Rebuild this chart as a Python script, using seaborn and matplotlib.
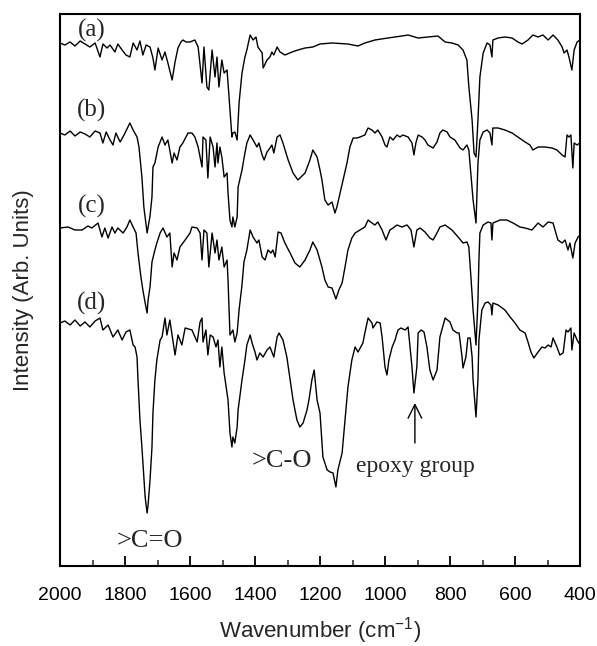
import matplotlib
matplotlib.use('Agg')
import matplotlib.pyplot as plt
import seaborn as sns
import pandas as pd
from matplotlib.ticker import MultipleLocator

# FTIR spectra, offset vertically (arb. units)
wn_a = [2000, 1985, 1969, 1954, 1938, 1923, 1908, 1892, 1877, 1868, 1855, 1846, 1831, 1822, 1809,
        1797, 1785, 1775, 1763, 1754, 1745, 1735, 1723, 1714, 1708, 1698, 1686, 1677, 1668, 1655,
        1646, 1637, 1628, 1622, 1612, 1600, 1585, 1575, 1563, 1557, 1548, 1542, 1532, 1523, 1517,
        1511, 1502, 1495, 1486, 1483, 1477, 1471, 1468, 1462, 1455, 1449, 1440, 1431, 1425, 1415,
        1406, 1397, 1391, 1378, 1375, 1363, 1354, 1348, 1342, 1332, 1323, 1308, 1286, 1268, 1246,
        1222, 1200, 1163, 1114, 1083, 1062, 1031, 991, 948, 929, 898, 868, 837, 815, 794,
        775, 760, 748, 742, 732, 726, 720, 714, 708, 698, 686, 677, 671, 668, 652,
        631, 609, 591, 578, 560, 545, 529, 514, 498, 483, 468, 455, 449, 440, 434,
        425, 418, 409, 400]
int_a = [523, 521, 524, 520, 525, 522, 519, 523, 509, 522, 518, 521, 514, 522, 516,
         511, 509, 523, 516, 525, 511, 521, 519, 508, 496, 518, 506, 514, 503, 486,
         504, 518, 524, 526, 524, 524, 526, 519, 483, 519, 479, 476, 516, 489, 509,
         479, 506, 493, 496, 483, 456, 429, 433, 434, 426, 463, 493, 509, 516, 531,
         526, 529, 519, 513, 498, 506, 509, 514, 511, 519, 514, 511, 514, 516, 518,
         519, 522, 523, 522, 520, 523, 526, 528, 530, 531, 528, 529, 530, 524, 523,
         521, 516, 506, 479, 446, 413, 409, 446, 489, 513, 523, 521, 509, 526, 528,
         529, 528, 524, 522, 526, 531, 529, 531, 526, 531, 526, 519, 513, 516, 509,
         496, 516, 524, 526]

wn_b = [2000, 1985, 1969, 1954, 1938, 1923, 1908, 1892, 1877, 1868, 1858, 1846, 1837, 1828, 1815,
        1803, 1785, 1775, 1763, 1757, 1748, 1742, 1732, 1723, 1717, 1714, 1708, 1698, 1686, 1677,
        1668, 1655, 1649, 1640, 1631, 1622, 1606, 1594, 1585, 1575, 1563, 1560, 1551, 1545, 1538,
        1529, 1523, 1517, 1514, 1508, 1502, 1495, 1486, 1483, 1477, 1471, 1468, 1462, 1455, 1452,
        1440, 1431, 1425, 1415, 1406, 1394, 1388, 1378, 1372, 1363, 1354, 1348, 1342, 1332, 1323,
        1314, 1298, 1283, 1268, 1246, 1231, 1222, 1209, 1200, 1194, 1185, 1175, 1163, 1154, 1148,
        1138, 1129, 1117, 1108, 1098, 1086, 1077, 1062, 1052, 1040, 1031, 1022, 1009, 1000, 994,
        985, 975, 963, 954, 945, 929, 917, 911, 905, 898, 886, 877, 868, 852, 840,
        831, 822, 809, 800, 785, 769, 760, 748, 742, 735, 729, 720, 717, 714, 708,
        698, 686, 677, 671, 668, 652, 631, 609, 591, 569, 554, 545, 529, 508, 486,
        471, 455, 446, 440, 434, 428, 422, 418, 409, 400]
int_b = [433, 431, 435, 430, 434, 432, 429, 435, 433, 423, 434, 426, 421, 433, 424,
         431, 443, 436, 429, 419, 389, 359, 333, 350, 369, 399, 403, 419, 429, 421,
         426, 403, 413, 406, 419, 423, 433, 433, 429, 419, 399, 429, 426, 388, 429,
         419, 399, 423, 403, 419, 409, 389, 393, 373, 346, 339, 349, 339, 349, 379,
         396, 413, 423, 431, 426, 419, 423, 411, 406, 414, 418, 421, 413, 429, 431,
         423, 406, 393, 386, 393, 406, 416, 409, 396, 386, 366, 361, 364, 353, 359,
         373, 386, 403, 419, 428, 428, 429, 431, 438, 436, 433, 436, 429, 421, 419,
         429, 426, 431, 429, 431, 429, 423, 411, 423, 431, 429, 426, 421, 418, 424,
         433, 436, 434, 429, 426, 418, 416, 421, 416, 389, 366, 343, 373, 403, 426,
         434, 436, 433, 421, 438, 438, 436, 433, 429, 424, 421, 416, 419, 419, 418,
         416, 411, 409, 431, 429, 431, 398, 423, 421, 423]

wn_c = [2000, 1975, 1954, 1932, 1914, 1902, 1883, 1871, 1862, 1852, 1840, 1831, 1822, 1806, 1794,
        1785, 1775, 1766, 1760, 1751, 1745, 1738, 1732, 1729, 1723, 1717, 1708, 1702, 1692, 1683,
        1671, 1662, 1655, 1649, 1640, 1631, 1615, 1600, 1594, 1578, 1569, 1563, 1557, 1548, 1542,
        1532, 1523, 1517, 1511, 1502, 1495, 1486, 1483, 1477, 1468, 1462, 1455, 1449, 1440, 1434,
        1425, 1415, 1406, 1394, 1388, 1378, 1369, 1360, 1351, 1345, 1338, 1329, 1320, 1308, 1292,
        1277, 1262, 1246, 1231, 1222, 1209, 1200, 1194, 1185, 1175, 1163, 1151, 1142, 1132, 1123,
        1114, 1102, 1092, 1077, 1062, 1052, 1040, 1031, 1022, 1009, 997, 985, 975, 963, 948,
        932, 920, 911, 902, 892, 877, 862, 852, 840, 831, 815, 794, 775, 760, 748,
        742, 735, 729, 720, 714, 711, 708, 698, 683, 674, 671, 668, 646, 625, 606,
        585, 569, 548, 529, 514, 498, 483, 468, 455, 446, 437, 431, 422, 415, 406,
        400]
int_c = [338, 339, 336, 336, 340, 338, 343, 329, 338, 328, 339, 333, 338, 333, 339,
         346, 339, 333, 313, 289, 276, 263, 253, 266, 279, 304, 316, 323, 333, 338,
         329, 333, 299, 313, 306, 319, 326, 333, 339, 338, 333, 306, 336, 333, 299,
         333, 313, 326, 306, 319, 299, 306, 286, 231, 236, 224, 233, 256, 281, 304,
         316, 336, 329, 323, 326, 309, 306, 316, 313, 316, 309, 334, 333, 323, 313,
         303, 299, 306, 316, 324, 316, 306, 299, 286, 279, 278, 267, 276, 283, 299,
         316, 328, 333, 336, 339, 346, 343, 341, 344, 336, 326, 336, 338, 341, 339,
         341, 336, 319, 336, 338, 334, 328, 326, 333, 339, 341, 336, 329, 323, 324,
         319, 286, 256, 221, 266, 306, 333, 341, 344, 343, 326, 343, 346, 346, 343,
         339, 338, 336, 343, 339, 344, 343, 326, 323, 326, 316, 323, 308, 323, 329,
         331]

wn_d = [2000, 1985, 1969, 1954, 1938, 1923, 1908, 1892, 1877, 1868, 1852, 1837, 1822, 1809, 1797,
        1785, 1775, 1769, 1763, 1760, 1754, 1748, 1738, 1732, 1729, 1723, 1717, 1714, 1708, 1702,
        1692, 1686, 1677, 1671, 1662, 1652, 1646, 1637, 1625, 1615, 1594, 1578, 1569, 1563, 1560,
        1551, 1545, 1538, 1529, 1520, 1514, 1508, 1502, 1495, 1486, 1483, 1477, 1471, 1468, 1462,
        1455, 1452, 1440, 1431, 1425, 1415, 1409, 1400, 1394, 1385, 1375, 1363, 1354, 1348, 1342,
        1332, 1326, 1314, 1302, 1292, 1283, 1271, 1262, 1252, 1240, 1234, 1225, 1218, 1209, 1200,
        1191, 1178, 1169, 1160, 1151, 1145, 1132, 1123, 1114, 1102, 1092, 1083, 1068, 1062, 1052,
        1040, 1037, 1025, 1015, 1009, 1000, 994, 988, 978, 969, 963, 960, 951, 938, 929,
        917, 911, 902, 898, 889, 880, 871, 862, 852, 840, 831, 815, 800, 791, 778,
        772, 763, 760, 751, 745, 738, 732, 729, 720, 714, 711, 702, 692, 683, 674,
        671, 668, 652, 631, 615, 600, 585, 569, 560, 551, 542, 529, 517, 508, 498,
        489, 483, 471, 462, 452, 443, 437, 428, 425, 418, 409, 400]
int_d = [243, 245, 241, 246, 240, 244, 239, 245, 248, 236, 241, 229, 236, 226, 234,
         236, 221, 219, 209, 186, 146, 119, 69, 53, 61, 86, 119, 153, 186, 206,
         226, 229, 248, 231, 246, 224, 211, 231, 221, 238, 236, 224, 244, 248, 224,
         236, 211, 231, 229, 219, 226, 199, 219, 193, 173, 166, 133, 119, 129, 123,
         139, 156, 186, 206, 221, 231, 223, 214, 206, 213, 209, 216, 219, 214, 209,
         229, 233, 226, 209, 186, 166, 146, 139, 143, 156, 166, 186, 196, 166, 153,
         109, 96, 94, 93, 79, 96, 113, 146, 179, 206, 219, 214, 223, 233, 248,
         243, 238, 244, 243, 229, 199, 191, 206, 219, 226, 233, 236, 238, 236, 239,
         199, 173, 199, 233, 236, 234, 219, 196, 186, 196, 229, 248, 244, 236, 233,
         233, 209, 198, 209, 228, 228, 209, 186, 149, 186, 226, 256, 263, 264, 261,
         251, 263, 261, 256, 249, 243, 236, 233, 224, 214, 208, 214, 219, 218, 221,
         219, 228, 219, 211, 213, 236, 234, 238, 216, 233, 226, 221]

samples = ['(a)', '(b)', '(c)', '(d)']
label_wn = 1903
label_int = [529, 449, 353, 256]

frames = []
for name, w, v in zip(samples, [wn_a, wn_b, wn_c, wn_d], [int_a, int_b, int_c, int_d]):
    frames.append(pd.DataFrame({'Wavenumber': w, 'Intensity': v, 'sample': name}))
df = pd.concat(frames, ignore_index=True)

sns.set_style('ticks')
plt.rcParams['font.family'] = ['Liberation Sans', 'DejaVu Sans']
plt.rcParams['mathtext.default'] = 'regular'

fig = plt.figure(figsize=(5.97, 6.46), dpi=100)
ax = fig.add_axes([60 / 597, 1 - 566 / 646, 520 / 597, 552 / 646])

sns.lineplot(data=df, x='Wavenumber', y='Intensity', hue='sample', palette=['black'] * 4,
             estimator=None, sort=False, legend=False, linewidth=1.0, ax=ax)

ax.set_xlim(2000, 400)
ax.set_ylim(0, 552)
ax.set_yticks([])
ax.xaxis.set_major_locator(MultipleLocator(200))
ax.xaxis.set_minor_locator(MultipleLocator(100))
ax.tick_params(axis='x', which='major', direction='in', length=7, width=1.3,
               labelsize=14, pad=15, colors='black')
ax.tick_params(axis='x', which='minor', direction='in', length=4, width=1.1)
for s in ax.spines.values():
    s.set_linewidth(1.5)
    s.set_color('black')

ax.set_xlabel('Wavenumber (cm$^{-1}$)', fontsize=16, labelpad=8)
ax.set_ylabel('Intensity (Arb. Units)', fontsize=16, labelpad=19)

serif = ['Liberation Serif', 'DejaVu Serif']
for name, y in zip(samples, label_int):
    ax.text(label_wn, y, name, family=serif, fontsize=18, ha='center', va='baseline')
ax.text(1723, 19, '>C=O', family=serif, fontsize=19, ha='center', va='baseline')
ax.text(1317, 99, '>C-O', family=serif, fontsize=19, ha='center', va='baseline')
ax.text(908, 94, 'epoxy group', family=serif, fontsize=17, ha='center', va='baseline')
ax.annotate('', xy=(908, 163), xytext=(908, 123),
            arrowprops=dict(arrowstyle='->,head_length=0.7,head_width=0.35',
                            lw=1.0, color='black', mutation_scale=14,
                            shrinkA=0, shrinkB=0))

fig.savefig('out.png', dpi=100)
